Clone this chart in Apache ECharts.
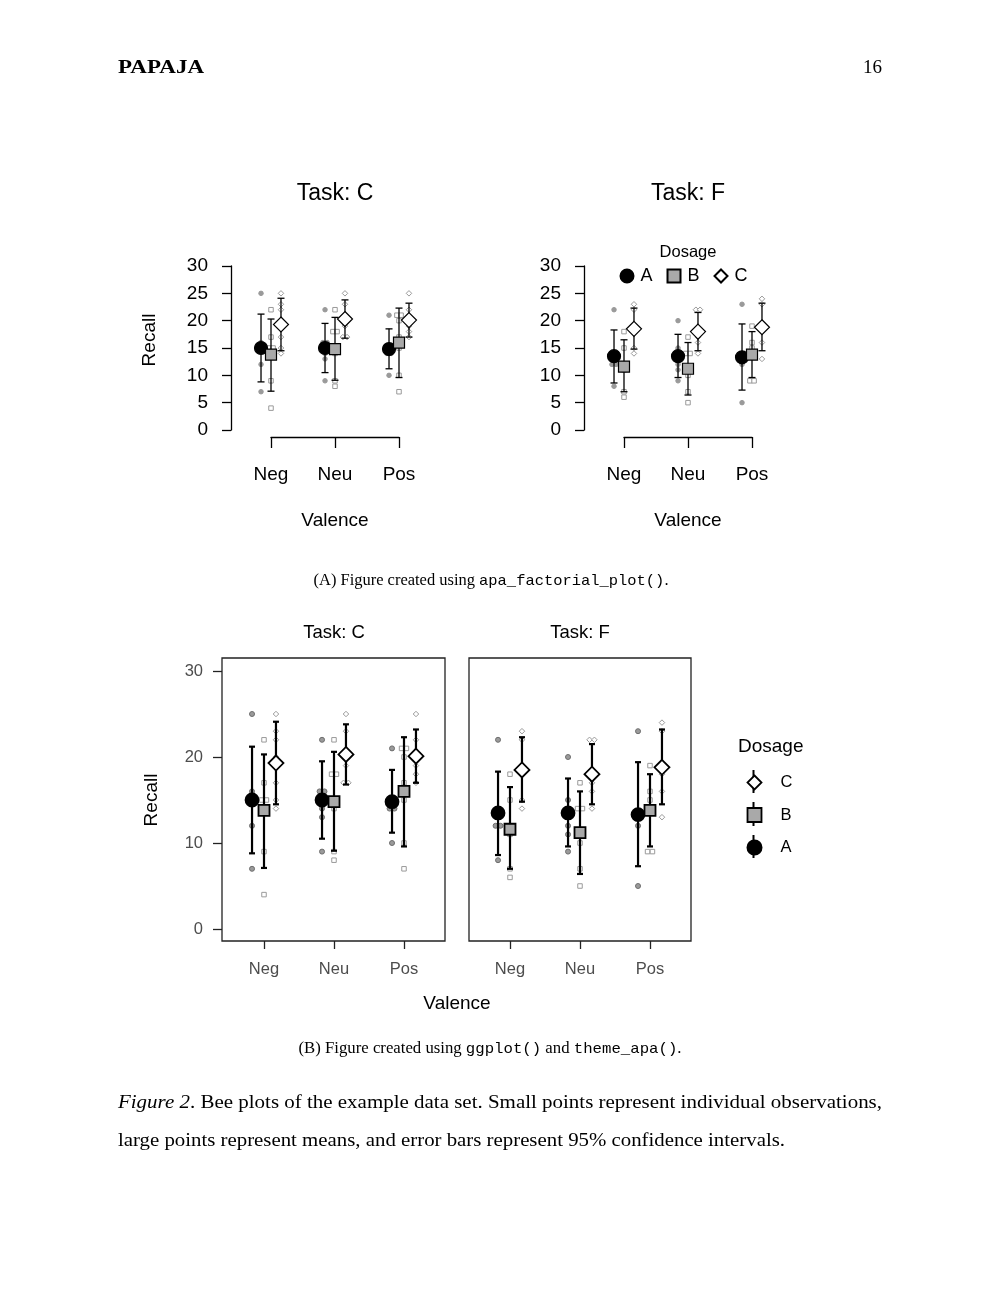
<!DOCTYPE html>
<html>
<head>
<meta charset="utf-8">
<title>Bee plots of the example data set</title>
<script src="https://cdn.jsdelivr.net/npm/echarts@6/dist/echarts.min.js"></script>
<style>
html, body { margin: 0; padding: 0; background: #fff; }
#chart { width: 1000px; height: 1294px; }
</style>
</head>
<body>
<div id="chart"></div>
<script>
const valence = ['Neg', 'Neu', 'Pos'];
const dosage = ['A', 'B', 'C'];
const topTicks = [0, 5, 10, 15, 20, 25, 30];
const bottomTicks = [0, 10, 20, 30];

// rows: dosage A, B, C -- columns: Neg, Neu, Pos
const meanC = [[15.0, 15.0, 14.8], [13.8, 14.8, 16.0], [19.3, 20.3, 20.1]];
const lowC = [[8.8, 10.5, 11.2], [7.1, 9.1, 9.6], [14.5, 16.8, 17.0]];
const highC = [[21.2, 19.5, 18.5], [20.3, 20.6, 22.3], [24.1, 23.8, 23.2]];
const meanF = [[13.5, 13.5, 13.3], [11.6, 11.2, 13.8], [18.5, 18.0, 18.8]];
const lowF = [[8.6, 9.6, 7.3], [7.0, 6.4, 9.6], [14.8, 14.5, 14.5]];
const highF = [[18.3, 17.5, 19.4], [16.5, 16.0, 18.0], [22.3, 21.5, 23.2]];

// individual observations, same layout (dosage -> valence -> values)
const obsC = [
  [[25, 16, 15, 15, 12, 7], [22, 16, 16, 15, 14, 13, 9], [21, 15, 14, 14, 10]],
  [[22, 17, 15, 15, 14, 9, 4], [22, 18, 18, 15, 14, 9, 8], [21, 21, 20, 17, 15, 10, 7]],
  [[25, 23, 22, 20, 17, 15, 14], [25, 23, 20, 19, 17, 17], [25, 22, 20, 19, 18, 17]]
];
const obsF = [
  [[22, 14, 13, 12, 12, 8], [20, 15, 14, 12, 11, 9], [23, 13, 13, 12, 5]],
  [[18, 15, 12, 11, 7, 6], [17, 14, 14, 10, 7, 5], [19, 16, 15, 14, 9, 9]],
  [[23, 22, 19, 18, 15, 14], [22, 22, 17, 16, 14], [24, 23, 18, 16, 13]]
];

const SANS = '"Liberation Sans", Arial, Helvetica, sans-serif';
const SERIF = '"Liberation Serif", "Times New Roman", serif';
const MONO = '"Liberation Mono", "DejaVu Sans Mono", monospace';

const meanSym = ['circle', 'rect', 'diamond'];
const meanFill = ['#000', '#a9a9a9', '#fff'];
const obsSym = ['circle', 'rect', 'diamond'];
const obsFill = ['#9a9a9a', '#fff', '#fff'];

const topOpt = {
  dodge: [-0.156, 0, 0.156], step: 0.065, cap: 3.5, lw: 1.3,
  meanSize: [13, 11, [15, 15]], meanBorder: 1.2,
  obsSize: [4.5, 4.5, 5.5], obsBorder: ['#9a9a9a', '#9a9a9a', '#9a9a9a']
};
const botOpt = {
  dodge: [-0.171, 0, 0.171], step: 0.07, cap: 3, lw: 2.2,
  meanSize: [13, 11, [15, 15]], meanBorder: 1.8,
  obsSize: [5, 4.5, 5.5], obsBorder: ['#6e6e6e', '#9a9a9a', '#9a9a9a']
};

// spread tied values sideways, like a bee swarm
function swarm(values, center, step) {
  const count = {};
  values.forEach(v => { count[v] = (count[v] || 0) + 1; });
  const used = {};
  return values.map(v => {
    const k = used[v] = (used[v] || 0) + 1;
    return [center + (k - 1 - (count[v] - 1) / 2) * step, v];
  });
}

function errorBar(cap, lw) {
  return function (params, api) {
    const x = api.value(0);
    const lo = api.coord([x, api.value(1)]);
    const hi = api.coord([x, api.value(2)]);
    const st = { stroke: '#000', lineWidth: lw };
    return {
      type: 'group',
      children: [
        { type: 'line', shape: { x1: lo[0], y1: lo[1], x2: hi[0], y2: hi[1] }, style: st },
        { type: 'line', shape: { x1: hi[0] - cap, y1: hi[1], x2: hi[0] + cap, y2: hi[1] }, style: st },
        { type: 'line', shape: { x1: lo[0] - cap, y1: lo[1], x2: lo[0] + cap, y2: lo[1] }, style: st }
      ]
    };
  };
}

function panelSeries(gi, means, lows, highs, obs, opt) {
  const out = [];
  dosage.forEach((d, di) => {
    const pts = [];
    obs[di].forEach((vals, vi) => pts.push(...swarm(vals, vi + 1 + opt.dodge[di], opt.step)));
    out.push({
      type: 'scatter', name: d + ' obs', xAxisIndex: gi, yAxisIndex: gi, data: pts,
      symbol: obsSym[di], symbolSize: opt.obsSize[di], clip: false, silent: true, z: 2,
      itemStyle: { color: obsFill[di], borderColor: opt.obsBorder[di], borderWidth: 1, opacity: 1 }
    });
  });
  dosage.forEach((d, di) => {
    out.push({
      type: 'custom', name: d + ' ci', xAxisIndex: gi, yAxisIndex: gi, clip: false, silent: true, z: 3,
      data: means[di].map((m, vi) => [vi + 1 + opt.dodge[di], lows[di][vi], highs[di][vi]]),
      encode: { x: 0, y: [1, 2] },
      renderItem: errorBar(opt.cap, opt.lw)
    });
  });
  dosage.forEach((d, di) => {
    out.push({
      type: 'scatter', name: d, xAxisIndex: gi, yAxisIndex: gi, clip: false, silent: true, z: 4,
      data: means[di].map((m, vi) => [vi + 1 + opt.dodge[di], m]),
      symbol: meanSym[di], symbolSize: opt.meanSize[di],
      itemStyle: { color: meanFill[di], borderColor: '#000', borderWidth: opt.meanBorder, opacity: 1 }
    });
  });
  return out;
}

function topX(gi) {
  return {
    gridIndex: gi, type: 'value', min: 1, max: 3, interval: 1, offset: 7,
    axisLine: { show: true, onZero: false, lineStyle: { color: '#000', width: 1.3 } },
    axisTick: { show: true, length: 11, lineStyle: { color: '#000', width: 1.3 } },
    axisLabel: { formatter: v => valence[v - 1], margin: 28, fontSize: 19, color: '#000', fontFamily: SANS },
    splitLine: { show: false },
    name: 'Valence', nameLocation: 'middle', nameGap: 74,
    nameTextStyle: { fontSize: 19, color: '#000', fontFamily: SANS }
  };
}
function topY(gi, withName) {
  return {
    gridIndex: gi, type: 'value', min: topTicks[0], max: topTicks[topTicks.length - 1],
    interval: topTicks[1] - topTicks[0], offset: 40,
    axisLine: { show: true, onZero: false, lineStyle: { color: '#000', width: 1.3 } },
    axisTick: { show: true, length: 9, lineStyle: { color: '#000', width: 1.3 } },
    axisLabel: { margin: 23, fontSize: 19, color: '#000', fontFamily: SANS },
    splitLine: { show: false },
    name: withName ? 'Recall' : '', nameLocation: 'middle', nameGap: 72,
    nameTextStyle: { fontSize: 19, color: '#000', fontFamily: SANS, padding: [0, 0, 0, 16] }
  };
}
function botX(gi) {
  return {
    gridIndex: gi, type: 'value', min: 1, max: 3, interval: 1, offset: 12,
    axisLine: { show: false, onZero: false },
    axisTick: { show: true, length: 8, lineStyle: { color: '#222', width: 1.3 } },
    axisLabel: { formatter: v => valence[v - 1], margin: 20, fontSize: 16.5, color: '#4d4d4d', fontFamily: SANS },
    splitLine: { show: false }
  };
}
function botY(gi, show) {
  return {
    gridIndex: gi, type: 'value', show: show, min: bottomTicks[0], max: bottomTicks[bottomTicks.length - 1],
    interval: bottomTicks[1] - bottomTicks[0], offset: 42,
    axisLine: { show: false, onZero: false },
    axisTick: { show: true, length: 9, lineStyle: { color: '#222', width: 1.3 } },
    axisLabel: { margin: 19, fontSize: 16.5, color: '#4d4d4d', fontFamily: SANS },
    splitLine: { show: false },
    name: 'Recall', nameLocation: 'middle', nameGap: 61,
    nameTextStyle: { fontSize: 19, color: '#000', fontFamily: SANS }
  };
}

// text helpers: measure so that lines fill the widths of the typeset page
const ctx = document.createElement('canvas').getContext('2d');
function widthOf(parts) {
  return parts.reduce((w, p) => { ctx.font = p[1]; return w + ctx.measureText(p[0]).width; }, 0);
}
function label(x, y, text, size, align) {
  return {
    type: 'text', x: x, y: y, silent: true,
    style: { text: text, fontFamily: SANS, fontSize: size, fill: '#000', align: align || 'center', verticalAlign: 'middle' }
  };
}
function fitted(x, y, text, parts, target, style) {
  return {
    type: 'text', x: x, y: y, silent: true, scaleX: target / widthOf(parts),
    style: Object.assign({ text: text, fill: '#000', verticalAlign: 'middle' }, style)
  };
}
function keyStroke(y1, y2) {
  return { type: 'line', silent: true, z: -1, shape: { x1: 753.5, y1: y1, x2: 753.5, y2: y2 }, style: { stroke: '#000', lineWidth: 2 } };
}

const serif16 = '16px ' + SERIF, mono15 = '15px ' + MONO, serif19 = '19px ' + SERIF;
const capA = [['(A) Figure created using ', serif16], ['apa_factorial_plot()', mono15], ['.', serif16]];
const capB = [['(B) Figure created using ', serif16], ['ggplot()', mono15], [' and ', serif16], ['theme_apa()', mono15], ['.', serif16]];
const line1 = [['Figure 2', 'italic ' + serif19], ['. Bee plots of the example data set. Small points represent individual observations,', serif19]];
const line2 = [['large points represent means, and error bars represent 95% confidence intervals.', serif19]];
const capRich = { m: { fontFamily: MONO, fontSize: 15, fill: '#000' } };

const graphics = [
  fitted(118, 68, 'PAPAJA', [['PAPAJA', 'bold 18px ' + SERIF]], 86,
    { fontFamily: SERIF, fontSize: 18, fontWeight: 'bold', align: 'left' }),
  { type: 'text', x: 882, y: 68, silent: true,
    style: { text: '16', fontFamily: SERIF, fontSize: 19, fill: '#000', align: 'right', verticalAlign: 'middle' } },
  label(335, 194, 'Task: C', 23),
  label(688, 194, 'Task: F', 23),
  label(688, 252, 'Dosage', 16.5),
  fitted(491, 581, '(A) Figure created using {m|apa_factorial_plot()}.', capA, 355,
    { fontFamily: SERIF, fontSize: 16, align: 'center', rich: capRich }),
  label(334, 633, 'Task: C', 18.5),
  label(580, 633, 'Task: F', 18.5),
  { type: 'rect', silent: true, shape: { x: 222, y: 658, width: 223, height: 283 },
    style: { fill: 'none', stroke: '#222', lineWidth: 1.3 } },
  { type: 'rect', silent: true, shape: { x: 469, y: 658, width: 222, height: 283 },
    style: { fill: 'none', stroke: '#222', lineWidth: 1.3 } },
  label(457, 1004, 'Valence', 19),
  label(738, 747, 'Dosage', 19, 'left'),
  // pointrange strokes behind the legend keys
  keyStroke(770, 793),
  keyStroke(802, 826),
  keyStroke(835, 858),
  fitted(490, 1049, '(B) Figure created using {m|ggplot()} and {m|theme_apa()}.', capB, 383,
    { fontFamily: SERIF, fontSize: 16, align: 'center', rich: capRich }),
  fitted(118, 1103, '{i|Figure 2}. Bee plots of the example data set. Small points represent individual observations,', line1, 764,
    { fontFamily: SERIF, fontSize: 19, align: 'left', rich: { i: { fontFamily: SERIF, fontSize: 19, fontStyle: 'italic', fill: '#000' } } }),
  fitted(118, 1141, 'large points represent means, and error bars represent 95% confidence intervals.', line2, 667,
    { fontFamily: SERIF, fontSize: 19, align: 'left' })
];

const chart = echarts.init(document.getElementById('chart'));
chart.setOption({
  animation: false,
  backgroundColor: '#fff',
  grid: [
    { left: 271, top: 266, width: 128, height: 164, outerBoundsMode: 'none' },
    { left: 624, top: 266, width: 128, height: 164, outerBoundsMode: 'none' },
    { left: 264, top: 671, width: 140, height: 258, outerBoundsMode: 'none' },
    { left: 510, top: 671, width: 140, height: 258, outerBoundsMode: 'none' }
  ],
  xAxis: [topX(0), topX(1), botX(2), botX(3)],
  yAxis: [topY(0, true), topY(1, false), botY(2, true), botY(3, false)],
  legend: [
    {
      orient: 'horizontal', left: 614.5, top: 262, itemWidth: 13, itemHeight: 13, itemGap: 14,
      selectedMode: false,
      textStyle: { fontSize: 18, color: '#000', fontFamily: SANS, padding: [0, 0, 0, 2] },
      data: [{ name: 'A', icon: 'circle' }, { name: 'B', icon: 'rect' }, { name: 'C', icon: 'diamond' }]
    },
    {
      orient: 'vertical', left: 741.5, top: 769, itemWidth: 14, itemHeight: 14, itemGap: 15.5,
      selectedMode: false,
      textStyle: { fontSize: 16.5, color: '#000', fontFamily: SANS, padding: [0, 0, 0, 14] },
      data: [
        { name: 'C', icon: 'diamond', itemStyle: { borderWidth: 1.8 } },
        { name: 'B', icon: 'rect', itemStyle: { borderWidth: 1.8 } },
        { name: 'A', icon: 'circle' }
      ]
    }
  ],
  graphic: graphics,
  series: [
    ...panelSeries(0, meanC, lowC, highC, obsC, topOpt),
    ...panelSeries(1, meanF, lowF, highF, obsF, topOpt),
    ...panelSeries(2, meanC, lowC, highC, obsC, botOpt),
    ...panelSeries(3, meanF, lowF, highF, obsF, botOpt)
  ]
});
</script>
</body>
</html>
